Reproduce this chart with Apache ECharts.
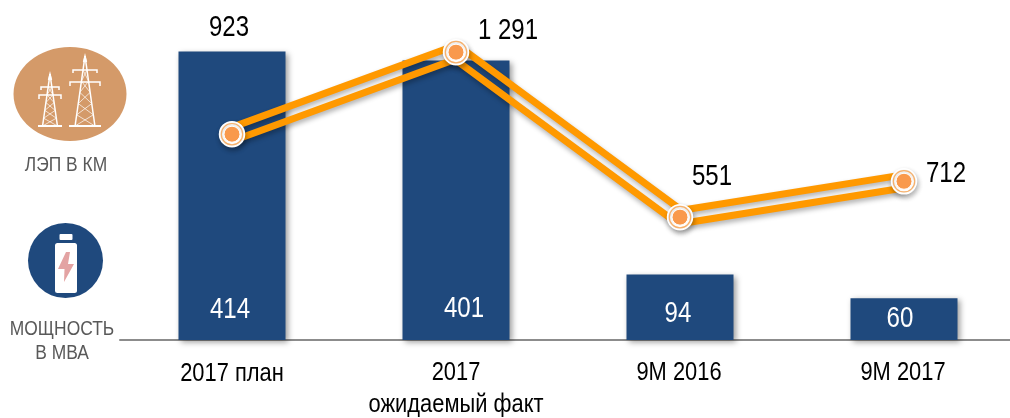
<!DOCTYPE html>
<html><head><meta charset="utf-8">
<style>html,body{margin:0;padding:0;background:#fff}#c{width:1010px;height:418px}</style>
<script src="https://cdn.jsdelivr.net/npm/echarts@6/dist/echarts.min.js"></script></head>
<body><div id="c"></div>
<script>
const categories = ['2017 план', '2017\nожидаемый факт', '9М 2016', '9М 2017'];
const barValues = [414, 401, 94, 60];
const lineValues = [923, 1291, 551, 712];
const lineLabels = ['923', '1 291', '551', '712'];
const lineLabelOffsets = [[-3, -106], [52, -21], [32, -40], [42, -8]];
const barLabelOffsets = [[-2, -30], [8, -31], [-2, -26], [-4, -21]];
const categoryLabelOffsets = [[0, 34], [0, 49], [-1, 33], [-1, 33]];

const FONT = '"Liberation Sans",Arial,sans-serif';
const BLUE = '#1F497D', ORANGE = '#FF9900', TAN = '#D49A69', GREY = '#595959';

function offsetPath(pts, d) {
  const nrm = (a, b) => { const dx = b[0]-a[0], dy = b[1]-a[1], l = Math.hypot(dx, dy); return [-dy/l, dx/l]; };
  return pts.map((p, i) => {
    const n1 = i > 0 ? nrm(pts[i-1], p) : nrm(p, pts[i+1]);
    const n2 = i < pts.length-1 ? nrm(p, pts[i+1]) : n1;
    let mx = n1[0]+n2[0], my = n1[1]+n2[1];
    const l = Math.hypot(mx, my); mx /= l; my /= l;
    const k = d / (mx*n1[0] + my*n1[1]);
    return [p[0]+mx*k, p[1]+my*k];
  });
}
function renderBands(params, api) {
  if (params.dataIndex !== 0) return null;
  const pts = lineValues.map((v, i) => api.coord([i, v]));
  const shadow = {shadowBlur: 5, shadowOffsetX: 1, shadowOffsetY: 3, shadowColor: 'rgba(0,0,0,0.3)'};
  const kids = [-6.5, 6.5].map(d => ({
    type: 'polyline', shape: {points: offsetPath(pts, d)},
    style: Object.assign({fill: 'none', stroke: ORANGE, lineWidth: 7, lineJoin: 'miter'}, shadow), silent: true
  }));
  pts.forEach(p => {
    kids.push({type: 'circle', shape: {cx: p[0], cy: p[1], r: 12.5},
      style: Object.assign({fill: '#fff', stroke: '#fff', lineWidth: 1.5}, shadow)});
    kids.push({type: 'circle', shape: {cx: p[0], cy: p[1], r: 10.7},
      style: {fill: 'none', stroke: '#F7B06A', lineWidth: 1.2}});
  });
  return {type: 'group', children: kids};
}
function txt(x, y, text, size, sx, color, lh) {
  return {type: 'text', x, y, scaleX: sx, silent: true,
    style: {text, font: size + 'px ' + FONT, fill: color, textAlign: 'center', textVerticalAlign: 'middle', lineHeight: lh || size}};
}
function renderLabels(params, api) {
  const i = params.dataIndex;
  const lp = api.coord([i, lineValues[i]]);
  const base = api.coord([i, 0]);
  return {type: 'group', children: [
    txt(lp[0] + lineLabelOffsets[i][0], lp[1] + lineLabelOffsets[i][1], lineLabels[i], 30, 0.8, '#000'),
    txt(base[0] + barLabelOffsets[i][0], base[1] + barLabelOffsets[i][1], String(barValues[i]), 29, 0.83, '#fff'),
    txt(base[0] + categoryLabelOffsets[i][0], base[1] + categoryLabelOffsets[i][1], categories[i], 25, 0.875, '#000', 32)
  ]};
}
function seg(points, w) {
  return {type: 'polyline', shape: {points}, style: {fill: 'none', stroke: '#fff', lineWidth: w || 1.2}, silent: true};
}
function pylon(cx, top, base, hb, arm1y, arm1w, arm2y, arm2w) {
  const at = y => hb * (y - top) / (base - top);
  const s = [seg([[cx - 1.5, top + 6], [cx, top], [cx + 1.5, top + 6]], 1.4)];
  s.push(seg([[cx, top], [cx - at(base) * 0.62, base]], 1.5));
  s.push(seg([[cx, top], [cx + at(base) * 0.62, base]], 1.5));
  s.push(seg([[cx - hb, base], [cx + hb, base]], 2));
  s.push(seg([[cx - arm1w, arm1y + 3], [cx - arm1w, arm1y], [cx + arm1w, arm1y], [cx + arm1w, arm1y + 3]], 1.5));
  s.push(seg([[cx - arm2w, arm2y + 4], [cx - arm2w, arm2y], [cx + arm2w, arm2y], [cx + arm2w, arm2y + 4]], 1.5));
  const n = 5;
  for (let i = 0; i < n; i++) {
    const y1 = arm1y + (base - arm1y) * i / n, y2 = arm1y + (base - arm1y) * (i + 1) / n;
    const w1 = at(y1) * 0.62, w2 = at(y2) * 0.62;
    s.push(seg([[cx - w1, y1], [cx + w2, y2]], 0.7));
    s.push(seg([[cx + w1, y1], [cx - w2, y2]], 0.7));
  }
  return s;
}
const graphics = [
  {type: 'ellipse', shape: {cx: 70, cy: 94, rx: 56.5, ry: 47}, style: {fill: TAN}, silent: true},
  ...pylon(85, 56, 126, 16, 70, 12, 82, 15),
  ...pylon(50, 74, 126, 12, 87, 9, 95, 11),
  txt(66, 165, 'ЛЭП В КМ', 20, 0.87, GREY),
  {type: 'circle', shape: {cx: 65.5, cy: 260.5, r: 37.5}, style: {fill: BLUE}, silent: true},
  {type: 'rect', shape: {x: 59.5, y: 234, width: 13, height: 6, r: 1}, style: {fill: '#fff'}, silent: true},
  {type: 'rect', shape: {x: 55, y: 243, width: 22, height: 50, r: 2.5}, style: {fill: '#fff'}, silent: true},
  {type: 'polygon', shape: {points: [[66, 252], [58, 269], [64.5, 269], [64, 282], [74, 264], [68, 264], [70, 252]]},
    style: {fill: '#E3A3A3'}, silent: true},
  txt(62, 341, 'МОЩНОСТЬ\nВ МВА', 20, 0.87, GREY, 24)
];

const chart = echarts.init(document.getElementById('c'), null, {renderer: 'canvas'});
chart.setOption({
  animation: false,
  backgroundColor: '#fff',
  grid: {left: 120, right: -6, top: 0, height: 340, containLabel: false, outerBoundsMode: 'none'},
  xAxis: {
    type: 'category', data: categories,
    axisLine: {lineStyle: {color: '#8C8C8C', width: 2}},
    axisTick: {show: false},
    axisLabel: {show: false}
  },
  yAxis: [
    {type: 'value', min: 0, max: 488, show: false, splitLine: {show: false}},
    {type: 'value', min: 0, max: 1525, show: false, splitLine: {show: false}}
  ],
  series: [
    {
      type: 'bar', name: 'МОЩНОСТЬ В МВА', yAxisIndex: 0, barWidth: 107, z: 2,
      data: barValues,
      itemStyle: {color: BLUE, shadowBlur: 6, shadowOffsetX: 2, shadowOffsetY: 2, shadowColor: 'rgba(0,0,0,0.4)'}
    },
    {
      type: 'custom', name: 'ЛЭП band', yAxisIndex: 1, z: 3, clip: false, silent: true,
      renderItem: renderBands, data: lineValues.map((v, i) => [i, v]), encode: {x: 0, y: 1}
    },
    {
      type: 'line', name: 'ЛЭП В КМ', yAxisIndex: 1, z: 4,
      data: lineValues,
      lineStyle: {width: 0, opacity: 0},
      symbol: 'circle', symbolSize: 16, showSymbol: true,
      itemStyle: {color: '#F9994C', borderColor: '#fff', borderWidth: 1}
    },
    {
      type: 'custom', name: 'labels', yAxisIndex: 1, z: 5, clip: false, silent: true,
      renderItem: renderLabels, data: lineValues.map((v, i) => [i, v]), encode: {x: 0, y: 1}
    }
  ],
  graphic: {elements: graphics}
});
</script></body></html>
